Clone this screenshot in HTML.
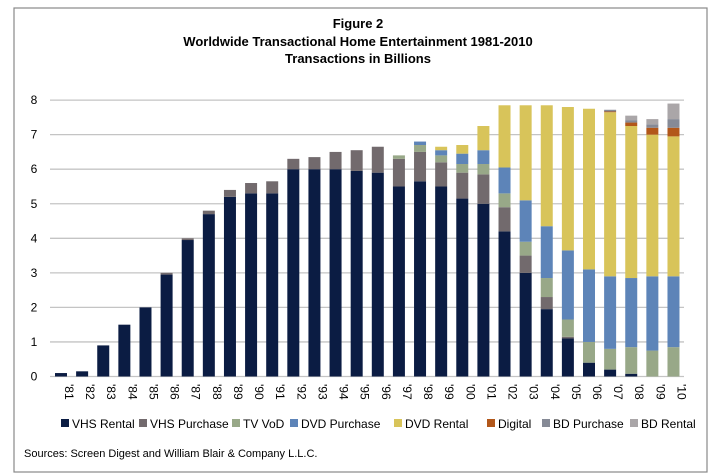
<!DOCTYPE html>
<html><head><meta charset="utf-8"><style>
body{margin:0;background:#fff;}
svg{display:block;font-family:"Liberation Sans",sans-serif;}
</style></head><body>
<svg id="s" width="716" height="476" viewBox="0 0 716 476" xmlns="http://www.w3.org/2000/svg">
<rect x="14" y="8" width="693" height="464" fill="#fff" stroke="#888" stroke-width="1.2"/>
<g font-weight="bold" font-size="13" text-anchor="middle" fill="#000">
<text x="358" y="28">Figure 2</text>
<text x="358" y="46">Worldwide Transactional Home Entertainment 1981-2010</text>
<text x="358" y="63">Transactions in Billions</text>
</g>
<g id="grid" stroke="#c4c4c4" stroke-width="1.3"></g>
<g id="yl" font-size="12" fill="#000" text-anchor="middle"></g>
<g id="bars"></g>
<g id="xl" font-size="12" fill="#000"></g>
<g id="leg" font-size="12" fill="#000"></g>
<text x="24" y="457" font-size="11" fill="#000">Sources: Screen Digest and William Blair &amp; Company L.L.C.</text>
</svg>
<script>
var ns="http://www.w3.org/2000/svg";
function el(p,t,a,txt){var e=document.createElementNS(ns,t);for(var k in a)e.setAttribute(k,a[k]);if(txt!=null)e.textContent=txt;document.getElementById(p).appendChild(e);}
var y0=376.5,pu=34.55;
for(var i=0;i<=8;i++){var y=y0-i*pu;el("grid","line",{x1:50,x2:684,y1:y,y2:y});el("yl","text",{x:34,y:y+4},i);}
var cols=["#0b1c43","#726a6d","#98a888","#5d84b8","#d8c45a","#b2571a","#868a96","#aaa6a8"];
var d=[[.1],[.15],[.9],[1.5],[2.0],[2.95,.05],[3.95,.05],[4.7,.1],[5.2,.2],[5.3,.3],[5.3,.35],[6.0,.3],[6.0,.35],[6.0,.5],[5.95,.6],[5.9,.75],[5.5,.8,.1],[5.65,.85,.2,.1],[5.5,.7,.2,.15,.1],[5.15,.75,.25,.3,.25],[5.0,.85,.3,.4,.7],[4.2,.7,.4,.75,1.8],[3.0,.5,.4,1.2,2.75],[1.95,.35,.55,1.5,3.5],[1.1,.05,.5,2.0,4.15],[.4,0,.6,2.1,4.65],[.2,0,.6,2.1,4.75,.02,.05],[.08,0,.77,2.0,4.4,.1,.07,.13],[0,0,.75,2.15,4.1,.2,.1,.15],[0,0,.85,2.05,4.05,.25,.25,.45]];
for(var i=0;i<30;i++){var cx=61+i*21.12,acc=0;
 for(var j=0;j<d[i].length;j++){var v=d[i][j];if(v<=0)continue;var yt=y0-(acc+v)*pu;el("bars","rect",{x:cx-6,y:yt,width:12,height:v*pu,fill:cols[j]});acc+=v;}
 var yr=(81+i)%100;var lab="'"+(yr<10?"0"+yr:yr);
 el("xl","text",{transform:"translate("+(cx+4)+",384) rotate(90)"},lab);
}
var names=["VHS Rental","VHS Purchase","TV VoD","DVD Purchase","DVD Rental","Digital","BD Purchase","BD Rental"];
var lx=[61,139,232,290,394,487,542,630];
for(var j=0;j<8;j++){el("leg","rect",{x:lx[j],y:419,width:8,height:8,fill:cols[j]});el("leg","text",{x:lx[j]+11,y:428},names[j]);}
</script>
</body></html>
